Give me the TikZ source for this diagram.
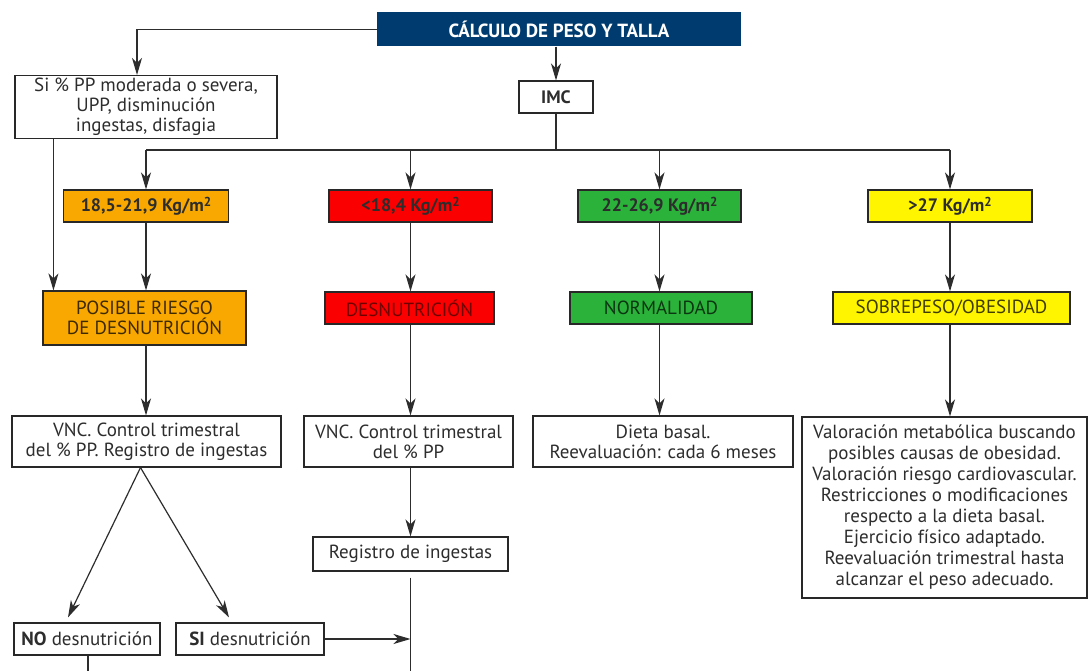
\documentclass[tikz,border=0pt]{standalone}
\usepackage{fontspec}
\setmainfont{PT Sans}
\usetikzlibrary{arrows.meta,calc}
\definecolor{navy}{RGB}{0,59,111}
\definecolor{orng}{RGB}{248,168,0}
\definecolor{rojo}{RGB}{250,0,0}
\definecolor{verde}{RGB}{42,178,58}
\definecolor{amar}{RGB}{255,245,0}
\definecolor{ink}{RGB}{45,45,45}
\definecolor{edge}{RGB}{40,40,40}
\newcommand{\sqm}{m\raisebox{0.55ex}{\fontsize{13}{13}\selectfont 2}}
\begin{document}
\begin{tikzpicture}[x=1pt,y=-1pt,
  every node/.style={font=\fontsize{19}{20}\selectfont, text=ink, align=center, inner sep=0pt},
  box/.style={draw=edge, line width=1.1pt, fill=white},
  conn/.style={draw=ink, line width=1.2pt},
  arr/.style={conn, -{Stealth[length=17pt,width=10pt,inset=5pt]}},
  bmi/.style={box, font=\fontsize{18}{20}\selectfont\bfseries, minimum height=32pt},
  diag/.style={box, minimum height=32pt},
]
\path[use as bounding box, fill=white] (0,0) rectangle (1088,671);

% top of the chart
\node[fill=navy, text=white, font=\fontsize{19}{20}\selectfont\bfseries,
      minimum width=364pt, minimum height=34pt] (title) at (559,29.5) {CÁLCULO DE PESO Y TALLA};
\node[box, minimum width=262pt, minimum height=63pt] (si) at (146,107)
  {Si \% PP moderada o severa,\\UPP, disminución\\ingestas, disfagia};
\node[box, font=\fontsize{18}{20}\selectfont\bfseries, minimum width=74pt, minimum height=32pt] (imc) at (556,97) {IMC};
\coordinate (bus) at (556,150);

% BMI ranges
\node[bmi, fill=orng, minimum width=165pt] (o1) at (146,206) {18,5-21,9 Kg/\sqm};
\node[bmi, fill=rojo, minimum width=163pt] (r1) at (410.5,206) {<18,4 Kg/\sqm};
\node[bmi, fill=verde, minimum width=163pt] (g1) at (659.5,206) {22-26,9 Kg/\sqm};
\node[bmi, fill=amar, minimum width=164pt] (y1) at (950,206) {>27 Kg/\sqm};

% diagnoses
\node[diag, fill=orng, text=orng!25!black, minimum width=203pt, minimum height=54pt] (o2) at (144.5,318) {POSIBLE RIESGO\\DE DESNUTRICIÓN};
\node[diag, fill=rojo, text=rojo!45!black, minimum width=169pt] (r2) at (409.5,308) {DESNUTRICIÓN};
\node[diag, fill=verde, text=verde!30!black, minimum width=182pt] (g2) at (661,308) {NORMALIDAD};
\node[diag, fill=amar, text=amar!25!black, minimum width=237pt] (y2) at (951.5,308) {SOBREPESO/OBESIDAD};

% actions
\node[box, minimum width=269pt, minimum height=51pt] (v1) at (146.5,441.5) {VNC. Control trimestral\\del \% PP. Registro de ingestas};
\node[box, minimum width=209pt, minimum height=51pt] (v2) at (408.5,441.5) {VNC. Control trimestral\\del \% PP};
\node[box, minimum width=260pt, minimum height=51pt] (dieta) at (663,441.5) {Dieta basal.\\Reevaluación: cada 6 meses};
\node[box, minimum width=285pt, minimum height=181pt, font=\fontsize{19}{21}\selectfont] (val) at (944.5,507.5)
  {Valoración metabólica buscando\\posibles causas de obesidad.\\Valoración riesgo cardiovascular.\\Restricciones o modificaciones\\respecto a la dieta basal.\\Ejercicio físico adaptado.\\Reevaluación trimestral hasta\\alcanzar el peso adecuado.};
\node[box, minimum width=195pt, minimum height=34pt] (reg) at (410.5,554) {Registro de ingestas};
\node[box, minimum width=146pt, minimum height=32pt] (no) at (87,639) {\textbf{NO} desnutrición};
\node[box, minimum width=148pt, minimum height=32pt] (sid) at (250,639) {\textbf{SI} desnutrición};
\coordinate (regEnd) at (410.5,671);
\coordinate (noEnd) at (88,671);

% connectors
\draw[arr] (title.west) -| ([xshift=-9pt]si.north);
\draw[arr] (imc.north |- title.south) -- (imc.north);
\draw[conn] (imc.south) -- (bus);
\draw[conn] (o1.north |- bus) -- (y1.north |- bus);
\foreach \n in {o1,r1,g1,y1} \draw[arr] (\n.north |- bus) -- (\n.north);
\draw[arr] ([xshift=39pt]si.south west) -- ([xshift=39pt]si.south west |- o2.north);
\draw[arr] (o1.south) -- (o1.south |- o2.north);
\draw[arr] (r1.south) -- (r1.south |- r2.north);
\draw[arr] (g1.south) -- (g1.south |- g2.north);
\draw[arr] (y1.south) -- (y1.south |- y2.north);
\draw[arr] (o1.south |- o2.south) -- (o1.south |- v1.north);
\draw[arr] (r1.south |- r2.south) -- (r1.south |- v2.north);
\draw[arr] (g1.south |- g2.south) -- (g1.south |- dieta.north);
\draw[arr] (y1.south |- y2.south) -- (y1.south |- val.north);
\draw[arr] (r1.south |- v2.south) -- (r1.south |- reg.north);
\draw[arr] ([xshift=-6pt]v1.south) -- ([xshift=-19pt,yshift=5pt]no.north);
\draw[arr] ([xshift=-6pt]v1.south) -- ([xshift=-21pt,yshift=5pt]sid.north);
\draw[conn] ([yshift=-6pt]reg.south) -- (regEnd);
\draw[arr] (sid.east) -- (sid.east -| regEnd);
\draw[conn] (no.south -| noEnd) -- (noEnd);
\end{tikzpicture}
\end{document}
